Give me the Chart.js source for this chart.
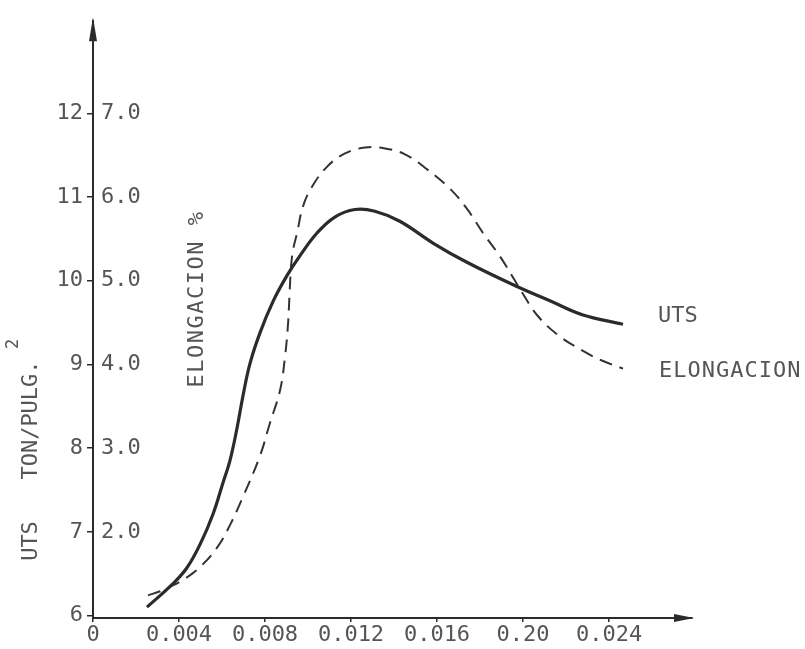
<!DOCTYPE html>
<html>
<head>
<meta charset="utf-8">
<title>UTS / Elongacion</title>
<script src="https://cdn.jsdelivr.net/npm/chart.js@4/dist/chart.umd.min.js"></script>
<style>
  body { margin: 0; background: #fff; }
  #wrap { position: relative; width: 805px; height: 649px; }
</style>
</head>
<body>
<div id="wrap"><canvas id="myChart"></canvas></div>
<script>
// values
const utsX = [0.00251, 0.00372, 0.00437, 0.00498, 0.00558, 0.00605, 0.00637, 0.00670, 0.00698, 0.00730,
              0.00777, 0.00837, 0.00902, 0.00963, 0.01042, 0.01125, 0.01218, 0.01311, 0.01427, 0.01581,
              0.01739, 0.01972, 0.02125, 0.02279, 0.02465];
const utsVals = [6.10, 6.38, 6.57, 6.85, 7.21, 7.59, 7.85, 8.24, 8.63, 9.01,
                 9.38, 9.75, 10.06, 10.30, 10.57, 10.76, 10.85, 10.83, 10.71, 10.45,
                 10.22, 9.93, 9.76, 9.59, 9.48];

const elongX = [0.00256, 0.00312, 0.00372, 0.00428, 0.00498, 0.00577, 0.00637, 0.00698, 0.00777, 0.00823,
                0.00870, 0.00893, 0.00907, 0.00914, 0.00921, 0.00930, 0.00949, 0.00977, 0.01018, 0.01088,
                0.01172, 0.01265, 0.01358, 0.01451, 0.01544, 0.01660, 0.01739, 0.01814, 0.01893, 0.01953,
                0.02000, 0.02065, 0.02158, 0.02279, 0.02372, 0.02465];
const elongVals = [1.24, 1.29, 1.36, 1.44, 1.58, 1.81, 2.08, 2.42, 2.91, 3.30,
                   3.69, 4.09, 4.48, 4.83, 5.16, 5.36, 5.57, 5.89, 6.12, 6.36,
                   6.52, 6.59, 6.58, 6.51, 6.35, 6.10, 5.86, 5.57, 5.29, 5.04,
                   4.84, 4.59, 4.36, 4.16, 4.04, 3.95];

const xTickLabels = ['0', '0.004', '0.008', '0.012', '0.016', '0.20', '0.024'];
const utsTicks = ['6', '7', '8', '9', '10', '11', '12'];
const elongTicks = ['2.0', '3.0', '4.0', '5.0', '6.0', '7.0'];

const ink = '#2b2b2b';
const textInk = '#555';
const mono = "'DejaVu Sans Mono', monospace";

// arrows, axis titles and curve names
const annotate = {
  id: 'annotate',
  afterDraw(chart) {
    const ctx = chart.ctx;
    const area = chart.chartArea;
    ctx.save();
    ctx.fillStyle = ink;

    // arrow heads
    ctx.beginPath();
    ctx.moveTo(area.left, area.top - 4);
    ctx.lineTo(area.left - 4, area.top + 20);
    ctx.lineTo(area.left + 4, area.top + 20);
    ctx.closePath();
    ctx.fill();
    ctx.beginPath();
    ctx.moveTo(area.right + 2, area.bottom);
    ctx.lineTo(area.right - 18, area.bottom - 4);
    ctx.lineTo(area.right - 18, area.bottom + 4);
    ctx.closePath();
    ctx.fill();

    // rotated axis titles
    ctx.fillStyle = textInk;
    ctx.textBaseline = 'alphabetic';
    ctx.textAlign = 'center';
    ctx.font = '22px ' + mono;
    const vert = (txt, x, y, spacing) => {
      ctx.save();
      ctx.translate(x, y);
      ctx.rotate(-Math.PI / 2);
      ctx.letterSpacing = spacing || '0px';
      ctx.fillText(txt, 0, 0);
      ctx.restore();
    };
    vert('UTS', 37, 541);
    vert('TON/PULG.', 37, 420);
    ctx.font = '17px ' + mono;
    vert('2', 18, 344);
    ctx.font = '22px ' + mono;
    vert('ELONGACION %', 203, 299, '1.5px');

    // curve names at the right end
    ctx.textAlign = 'left';
    const utsPts = chart.getDatasetMeta(0).data;
    const elPts = chart.getDatasetMeta(1).data;
    const u = utsPts[utsPts.length - 1];
    const e = elPts[elPts.length - 1];
    ctx.fillText('UTS', u.x + 35, u.y - 2);
    ctx.letterSpacing = '1px';
    ctx.fillText('ELONGACION', e.x + 36, e.y + 8);
    ctx.restore();
  }
};

const config = {
  type: 'line',
  data: {
    datasets: [
      {
        label: 'UTS',
        data: utsX.map((x, i) => ({ x: x, y: utsVals[i] })),
        yAxisID: 'y',
        borderColor: ink,
        borderWidth: 3.2,
        pointRadius: 0,
        tension: 0.4,
        fill: false
      },
      {
        label: 'ELONGACION',
        data: elongX.map((x, i) => ({ x: x, y: elongVals[i] })),
        yAxisID: 'y2',
        borderColor: '#333',
        borderWidth: 2,
        borderDash: [13, 8],
        pointRadius: 0,
        tension: 0.4,
        fill: false
      }
    ]
  },
  options: {
    responsive: true,
    maintainAspectRatio: false,
    animation: false,
    layout: { padding: { top: 10, right: 113, left: 0, bottom: 0 } },
    plugins: { legend: { display: false }, tooltip: { enabled: false } },
    scales: {
      x: {
        type: 'linear',
        min: 0,
        max: 0.02786,
        border: { display: true, color: ink, width: 2 },
        grid: { display: true, drawOnChartArea: false, drawTicks: true, tickLength: 4, color: ink, lineWidth: 1.5 },
        ticks: {
          stepSize: 0.004,
          includeBounds: false,
          padding: 0,
          maxRotation: 0,
          autoSkip: false,
          color: textInk,
          font: { family: mono, size: 22 },
          callback: (v) => xTickLabels[Math.round(v / 0.004)] ?? null
        },
        afterFit: (s) => { s.height = 31; }
      },
      y: {
        type: 'linear',
        position: 'left',
        weight: 1,
        min: 5.97,
        max: 13.1,
        border: { display: true, color: ink, width: 2 },
        grid: { display: true, drawOnChartArea: false, drawTicks: true, tickLength: 6, color: ink, lineWidth: 1.5 },
        ticks: {
          stepSize: 1,
          includeBounds: false,
          padding: 4,
          autoSkip: false,
          color: textInk,
          font: { family: mono, size: 22 },
          callback: (v) => utsTicks[Math.round(v) - 6] ?? null
        },
        afterFit: (s) => { s.width = 93; }
      },
      y2: {
        type: 'linear',
        position: 'left',
        weight: 0,
        min: 0.97,
        max: 8.1,
        border: { display: false },
        grid: { display: false },
        ticks: {
          mirror: true,
          stepSize: 1,
          includeBounds: false,
          padding: 8,
          autoSkip: false,
          color: textInk,
          font: { family: mono, size: 22 },
          callback: (v) => elongTicks[Math.round(v) - 2] ?? null
        },
        afterFit: (s) => { s.width = 0; }
      }
    }
  },
  plugins: [annotate]
};

const myChart = new Chart(document.getElementById('myChart'), config);
</script>
</body>
</html>
